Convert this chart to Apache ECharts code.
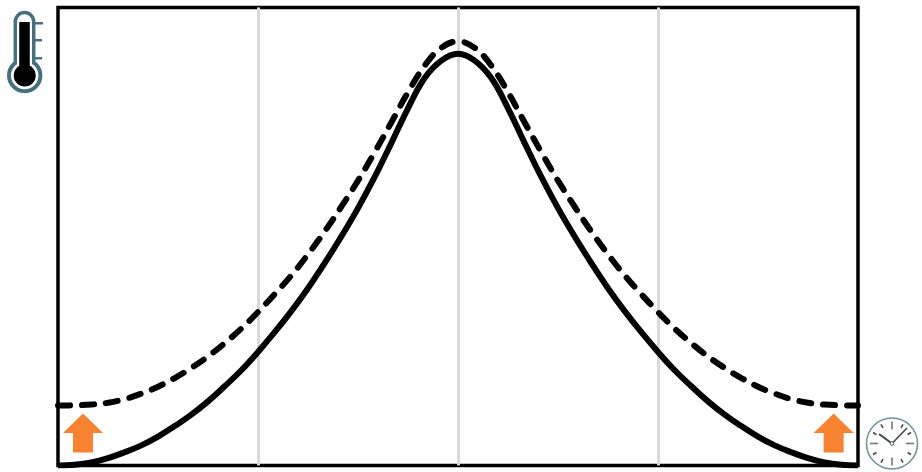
<!DOCTYPE html>
<html>
<head>
<meta charset="utf-8">
<style>
  html, body { margin: 0; padding: 0; background: #fff; }
  #chart { width: 922px; height: 472px; }
</style>
<script src="https://cdn.jsdelivr.net/npm/echarts@6/dist/echarts.min.js"></script>
</head>
<body>
<div id="chart"></div>
<script>
var hours = [0, 0.5, 1, 1.5, 2, 2.5, 3, 3.5, 4, 4.5, 5, 5.5, 6, 6.5, 7, 7.5, 8, 8.5, 9, 9.5, 10, 10.5, 11, 11.5, 12,
  12.5, 13, 13.5, 14, 14.5, 15, 15.5, 16, 16.5, 17, 17.5, 18, 18.5, 19, 19.5, 20, 20.5, 21, 21.5, 22, 22.5, 23, 23.5, 24]
var solidValues = [0, 0.15, 0.65, 1.6, 2.9, 4.4, 6.3, 8.6, 11.1, 14.0, 17.3, 20.8, 24.8, 29.1, 33.7, 38.7, 44.2, 50.0, 56.2, 63.0, 70.4, 78.0, 84.6, 88.4, 89.9,
  88.4, 84.6, 78.0, 70.4, 63.0, 56.2, 50.0, 44.2, 38.7, 33.7, 29.1, 24.8, 20.8, 17.3, 14.0, 11.1, 8.6, 6.3, 4.4, 2.9, 1.6, 0.65, 0.15, 0]
var dashedValues = [13.1, 13.15, 13.3, 13.7, 14.5, 15.7, 17.2, 19.1, 21.3, 23.8, 26.7, 29.9, 33.5, 37.4, 41.5, 46.1, 51.1, 56.5, 62.2, 68.4, 74.9, 81.5, 87.3, 91.2, 92.6,
  91.2, 87.3, 81.5, 74.9, 68.4, 62.2, 56.5, 51.1, 46.1, 41.5, 37.4, 33.5, 29.9, 26.7, 23.8, 21.3, 19.1, 17.2, 15.7, 14.5, 13.7, 13.3, 13.15, 13.1]
var arrowHours = [0.75, 23.27]
var arrowValues = [7.1, 7.1]

function pairs(xs, ys) {
  return xs.map(function (x, i) { return [x, ys[i]] })
}

// thermometer, top left
var iconTeal = '#44707f'
var thermometer = [
  {
    type: 'circle',
    shape: { cx: 24.7, cy: 75.5, r: 15.7 },
    style: { fill: '#fff', stroke: iconTeal, lineWidth: 4 }
  },
  {
    type: 'rect',
    shape: { x: 15.3, y: 12.5, width: 18.4, height: 50, r: [9.2, 9.2, 0, 0] },
    style: { fill: '#fff', stroke: iconTeal, lineWidth: 3.5 }
  },
  { type: 'rect', shape: { x: 17, y: 56, width: 15, height: 14 }, style: { fill: '#fff' } },
  { type: 'rect', shape: { x: 34, y: 22, width: 9, height: 2.5 }, style: { fill: iconTeal } },
  { type: 'rect', shape: { x: 34, y: 39, width: 8, height: 2.5 }, style: { fill: iconTeal } },
  { type: 'rect', shape: { x: 34, y: 57, width: 8, height: 2.5 }, style: { fill: iconTeal } },
  { type: 'rect', shape: { x: 19.2, y: 22, width: 10.6, height: 48 }, style: { fill: '#000' } },
  { type: 'circle', shape: { cx: 24.7, cy: 75.5, r: 11 }, style: { fill: '#000' } }
]

// clock, bottom right
var clockX = 892
var clockY = 443.5
var clock = [
  {
    type: 'circle',
    shape: { cx: clockX, cy: clockY, r: 25.5 },
    style: { fill: '#fff', stroke: '#6f9099', lineWidth: 1.5 }
  }
]
for (var h = 0; h < 12; h++) {
  var a = h * Math.PI / 6
  var inner = h % 3 === 0 ? 14 : 18
  clock.push({
    type: 'line',
    shape: {
      x1: clockX + Math.sin(a) * inner,
      y1: clockY - Math.cos(a) * inner,
      x2: clockX + Math.sin(a) * 22,
      y2: clockY - Math.cos(a) * 22
    },
    style: { stroke: h % 3 === 0 ? '#777' : '#444', lineWidth: 1.6 }
  })
}
clock.push(
  { type: 'line', shape: { x1: clockX, y1: clockY, x2: 879, y2: 434 }, style: { stroke: '#3a4a50', lineWidth: 2 } },
  { type: 'line', shape: { x1: clockX, y1: clockY, x2: 907, y2: 428 }, style: { stroke: '#3a4a50', lineWidth: 1.6 } },
  { type: 'circle', shape: { cx: clockX, cy: clockY, r: 1.8 }, style: { fill: '#fff', stroke: '#555', lineWidth: 1 } }
)

var chart = echarts.init(document.getElementById('chart'), null, { renderer: 'canvas' })
chart.setOption({
  animation: false,
  backgroundColor: '#fff',
  grid: {
    left: 58,
    top: 7.5,
    width: 800,
    height: 458,
    show: true,
    borderColor: '#000',
    borderWidth: 3.5,
    backgroundColor: 'transparent'
  },
  xAxis: {
    type: 'value',
    min: 0,
    max: 24,
    interval: 6,
    axisLine: { show: false },
    axisTick: { show: false },
    axisLabel: { show: false },
    splitLine: { show: true, showMinLine: false, showMaxLine: false, lineStyle: { color: '#d9d9d9', width: 3 } }
  },
  yAxis: {
    type: 'value',
    min: 0,
    max: 100,
    axisLine: { show: false },
    axisTick: { show: false },
    axisLabel: { show: false },
    splitLine: { show: false }
  },
  series: [
    {
      name: 'solid',
      type: 'line',
      data: pairs(hours, solidValues),
      smooth: 0.4,
      symbol: 'none',
      lineStyle: { color: '#000', width: 6 }
    },
    {
      name: 'dashed',
      type: 'line',
      data: pairs(hours, dashedValues),
      smooth: 0.4,
      symbol: 'none',
      lineStyle: { color: '#000', width: 6, type: [12, 12], cap: 'round' }
    },
    {
      name: 'arrows',
      type: 'scatter',
      data: pairs(arrowHours, arrowValues),
      symbol: 'path://M20 0 L40 20 L30 20 L30 40 L10 40 L10 20 L0 20 Z',
      symbolSize: [40, 39],
      itemStyle: { color: '#f98230', opacity: 1 }
    }
  ],
  graphic: { elements: thermometer.concat(clock) }
})
</script>
</body>
</html>
